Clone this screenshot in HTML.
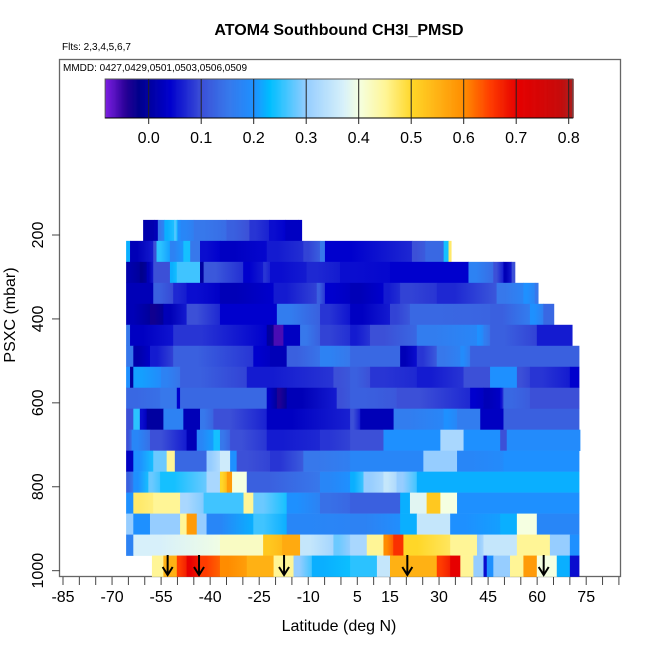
<!DOCTYPE html>
<html><head><meta charset="utf-8"><style>
html,body{margin:0;padding:0;background:#fff;}
svg{display:block;font-family:"Liberation Sans",Arial,sans-serif;}
</style></head><body>
<svg id="chart" width="650" height="650" viewBox="0 0 650 650">
<defs id="defs"></defs>
<text x="339" y="35" text-anchor="middle" font-size="16" font-weight="bold">ATOM4 Southbound CH3I_PMSD</text>
<text x="62" y="50" font-size="10">Flts: 2,3,4,5,6,7</text>
<rect x="59.5" y="59.5" width="561" height="517" fill="none" stroke="#666" stroke-width="1.3"/>
<text x="63" y="71" font-size="10">MMDD: 0427,0429,0501,0503,0506,0509</text>
<g id="heat"></g>
<g id="arrows"></g>
<g id="cbar"></g>
<g id="axes"></g>
<text x="339" y="631" text-anchor="middle" font-size="16">Latitude (deg N)</text>
<text transform="translate(15,315) rotate(-90)" text-anchor="middle" font-size="16">PSXC (mbar)</text>
</svg>
<script>
// ---- data ----
const rowPressures = [189,239,289,339,389,439,489,539,589,639,689,739,789,839,889,939,989];
const rowEnds = [-12,33.7,53.2,60.3,65.1,70.7,72.8,72.8,72.8,72.8,73.1,72.8,72.8,72.8,72.8,72.8,72.8];
const rowLats = [
 [-60.5,-57,-56,-54,-51,-50,-49,-45,-35,-28,-22,-17,-13],
 [-65.7,-64.5,-57.4,-56.4,-52.3,-48.2,-46.1,-43.1,-37,-22.7,-11.5,-6.4,-4.9,21.7,25.8,31.4,32.9],
 [-65.7,-61.5,-59.4,-57.4,-52.3,-50.2,-43.1,-42,-29.9,-23.8,-21.7,-10.5,-0.3,15,39,46.6,49.7,52.2],
 [-65.7,-57.4,-51.3,-47.2,-37,-20.6,-7.4,-4.9,2.8,13,18.1,29.3,47.6,55.8,59.3],
 [-65.7,-58.4,-54.3,-47.2,-37,-19.6,-6.4,2.8,15,21.1,45.6,57.8,61.9],
 [-65.7,-64.5,-51.3,-22.7,-20.6,-17.6,-12.5,-6.4,2.8,8.9,23.2,41.6,43.6,45.6,59.9],
 [-65.7,-63.5,-58.4,-51.3,-26.8,-21.7,-16.6,-6.4,2.8,18.1,23.2,29.3,36.5,39.5],
 [-65.7,-64.5,-63.5,-55,-49.2,-28.8,-2.3,2.8,8.9,23.2,37.5,45.6,53.8,57.8,70],
 [-65.7,-55.3,-50.2,-49.2,-22.7,-19.6,-16.6,-1.3,2.8,17,39.5,43.6,48.7,49.7,57.8],
 [-65.7,-63.5,-61.5,-59.4,-54.3,-48.2,-43.1,-39,-22.7,2.8,5.9,16.1,31.4,35.5,42.6,49.7],
 [-65.7,-64,-58.4,-47.2,-44.1,-39,-37,-33.9,-22.7,-6.4,2.8,13,30.4,37.5,48.7,50.7],
 [-65.7,-63.5,-57.4,-53.3,-50.8,-41.1,-37,-33.9,-31.9,-21.7,-11.5,2.8,25.2,35.5,49.7],
 [-65.7,-63.5,-58.9,-55.3,-41.1,-37,-34.9,-33.3,-28.8,-6.4,2.8,6.9,13,17,23.2],
 [-65.7,-63.5,-57.4,-49.2,-42,-29.8,-26.8,-16.6,-6.4,2.8,18.1,21.1,26.2,30.4,35.5],
 [-65.7,-63.5,-58.4,-49.2,-47.2,-44.1,-41.1,-26.8,-16.6,2.8,18.1,23.2,33.4,48.7,53.8,59.9],
 [-65.7,-63.5,-37,-23.8,-18,-12.5,-2.3,2.8,7.9,13,16,19.1,33.4,41.6,43.6,53.8,63.9,70],
 [-57.8,-54.3,-50.2,-47.2,-43.1,-37,-28.8,-20.6,-14.5,-8.9,2.8,11,15,29.3,33.4,36.5,40.5,43.6,44.6,46.6,51.7,55.8,59.9,66,70]
];
const rowVals = [
 [0.01,0.02,0.15,0.22,0.27,0.2,0.18,0.15,0.12,0.08,0.05,0.03,0.03],
 [0.22,0.02,0.1,0.25,0.17,0.24,0.15,0.05,0.03,0.06,0.09,0.15,0.04,0.1,0.13,0.24,0.47],
 [0.01,-0.02,0.02,0.1,0.22,0.26,0.0,0.11,0.04,0.08,0.05,0.07,0.05,0.04,0.17,0.1,0.02,0.1],
 [0.02,0.12,0.07,0.05,0.02,0.06,0.12,0.04,0.02,0.06,0.09,0.07,0.15,0.2,0.15],
 [0.02,-0.03,0.02,0.1,0.04,0.16,0.08,0.03,0.09,0.13,0.12,0.2,0.13],
 [0.15,0.03,0.08,0.0,-0.06,0.03,0.15,0.09,0.06,0.1,0.16,0.2,0.16,0.12,0.06],
 [0.15,0.01,0.06,0.12,0.04,0.02,0.12,0.17,0.13,0.02,0.08,0.15,0.19,0.12],
 [0.2,0.0,0.21,0.17,0.12,0.06,0.1,0.12,0.08,0.06,0.1,0.2,0.1,0.08,0.04],
 [0.13,0.15,0.04,0.13,0.03,-0.04,0.02,0.1,0.12,0.1,0.04,0.02,0.05,0.13,0.1],
 [0.1,0.25,0.05,0.0,0.17,0.02,0.15,0.1,0.03,0.1,0.02,0.16,0.2,0.16,0.03,0.12],
 [0.1,0.18,0.1,0.02,0.18,0.24,0.15,0.1,0.06,0.08,0.1,0.2,0.32,0.2,0.1,0.19],
 [0.03,0.2,0.28,0.45,0.13,0.3,0.36,0.2,0.1,0.08,0.15,0.18,0.3,0.18,0.2],
 [0.12,0.2,0.28,0.24,0.32,0.5,0.58,0.4,0.12,0.18,0.22,0.3,0.35,0.3,0.22],
 [0.2,0.47,0.45,0.32,0.26,0.45,0.28,0.2,0.14,0.12,0.22,0.38,0.52,0.4,0.2],
 [0.3,0.2,0.3,0.45,0.58,0.3,0.18,0.26,0.18,0.17,0.22,0.35,0.2,0.22,0.4,0.18],
 [0.17,0.37,0.42,0.52,0.56,0.35,0.28,0.32,0.45,0.6,0.66,0.5,0.45,0.3,0.35,0.45,0.3,0.2],
 [0.45,0.55,0.65,0.7,0.65,0.6,0.55,0.45,0.3,0.22,0.25,0.35,0.55,0.65,0.7,0.45,0.3,0.05,0.2,0.3,0.45,0.58,0.4,0.22,0.05]
];
const arrowLats = [-53,-43.4,-17.4,20.3,62];
const xTicks = [-85,-80,-75,-70,-65,-60,-55,-50,-45,-40,-35,-30,-25,-20,-15,-10,-5,0,5,10,15,20,25,30,35,40,45,50,55,60,65,70,75,80,85];
const xLabels = [-85,-70,-55,-40,-25,-10,5,15,30,45,60,75];
const yTicks = [200,400,600,800,1000];
const cbTicks = [0.0,0.1,0.2,0.3,0.4,0.5,0.6,0.7,0.8];

// ---- scales ----
const NS='http://www.w3.org/2000/svg';
function xs(lat){return 63+(lat+85)*3.27;}
function ys(p){return 235+(p-200)*0.4196;}
function cs(v){return 148.7+v*525;}
const stops=[[-0.085,[128,32,230]],[-0.045,[40,0,150]],[-0.02,[0,0,140]],[0.0,[0,0,160]],[0.04,[0,0,205]],[0.1,[60,80,215]],[0.15,[55,120,235]],[0.2,[30,144,255]],[0.23,[0,190,255]],[0.3,[150,205,255]],[0.37,[215,240,250]],[0.4,[245,255,225]],[0.45,[255,245,150]],[0.5,[255,215,40]],[0.6,[255,140,0]],[0.65,[255,60,0]],[0.7,[230,0,0]],[0.78,[200,10,10]],[0.81,[170,30,30]]];
function col(v){
  if(v<=stops[0][0])return 'rgb('+stops[0][1]+')';
  for(let i=1;i<stops.length;i++){if(v<=stops[i][0]){const a=stops[i-1],b=stops[i];const t=(v-a[0])/(b[0]-a[0]);
    const c=a[1].map((q,k)=>Math.round(q+(b[1][k]-q)*t));return 'rgb('+c+')';}}
  return 'rgb('+stops[stops.length-1][1]+')';
}
function mk(tag,attrs,parent){const e=document.createElementNS(NS,tag);for(const k in attrs)e.setAttribute(k,attrs[k]);parent.appendChild(e);return e;}

// ---- heatmap ----
const heat=document.getElementById('heat');
const defs=document.getElementById('defs');
let gid=0;
rowPressures.forEach((p,i)=>{
  const y0=ys(p-25),y1=ys(p+25);
  const lats=rowLats[i],vals=rowVals[i];
  for(let j=0;j<lats.length;j++){
    const a=xs(lats[j]),b=xs(j+1<lats.length?lats[j+1]:rowEnds[i]);
    let fill=col(vals[j]);
    if(j+1<vals.length && Math.abs(vals[j+1]-vals[j])<0.09){
      const id='g'+(gid++);
      const g=mk('linearGradient',{id:id,x1:0,y1:0,x2:1,y2:0},defs);
      mk('stop',{offset:'0.3','stop-color':col(vals[j])},g);
      mk('stop',{offset:'1','stop-color':col((vals[j]+vals[j+1])/2)},g);
      fill='url(#'+id+')';
    }
    const r=mk('rect',{x:a.toFixed(2),y:y0.toFixed(2),width:(b-a+0.4).toFixed(2),height:(y1-y0+0.3).toFixed(2),fill:fill},heat);
    
    
  }
});
// ---- arrows ----
const ag=document.getElementById('arrows');
arrowLats.forEach(l=>{
  const x=xs(l);
  const ln=mk('line',{x1:x,y1:555,x2:x,y2:574,stroke:'#000','stroke-width':2},ag);
  
  
  mk('polyline',{points:(x-5)+',567 '+x+',575 '+(x+5)+',567',fill:'none',stroke:'#000','stroke-width':2},ag);
});
// ---- colorbar ----
const cb=document.getElementById('cbar');
for(let v=-0.083;v<0.808;v+=0.002){
  mk('rect',{x:cs(v).toFixed(2),y:79,width:1.4,height:39,fill:col(v)},cb);
}
mk('rect',{x:cs(-0.083),y:79,width:cs(0.808)-cs(-0.083),height:39,fill:'none',stroke:'#555','stroke-width':1},cb);
mk('line',{x1:cs(-0.083),y1:118,x2:cs(0.808),y2:118,stroke:'#000','stroke-width':1},cb);
cbTicks.forEach(v=>{
  const x=cs(v);
  mk('line',{x1:x,y1:79,x2:x,y2:124,stroke:'#222','stroke-width':1},cb);
  const t=mk('text',{x:x,y:143,'text-anchor':'middle','font-size':16},cb);
  
  
  t.textContent=v.toFixed(1);
});
// ---- axes ----
const ax=document.getElementById('axes');
xTicks.forEach(l=>{mk('line',{x1:xs(l),y1:577,x2:xs(l),y2:585,stroke:'#444','stroke-width':1},ax);});
xLabels.forEach(l=>{
  const t=mk('text',{x:xs(l),y:602,'text-anchor':'middle','font-size':16},ax);
  
  
  t.textContent=l;
});
yTicks.forEach(p=>{
  const y=ys(p);
  mk('line',{x1:52,y1:y,x2:60,y2:y,stroke:'#444','stroke-width':1},ax);
  const t=mk('text',{transform:'translate(43,'+y+') rotate(-90)','text-anchor':'middle','font-size':16},ax);
  
  
  t.textContent=p;
});
</script>
</body></html>
